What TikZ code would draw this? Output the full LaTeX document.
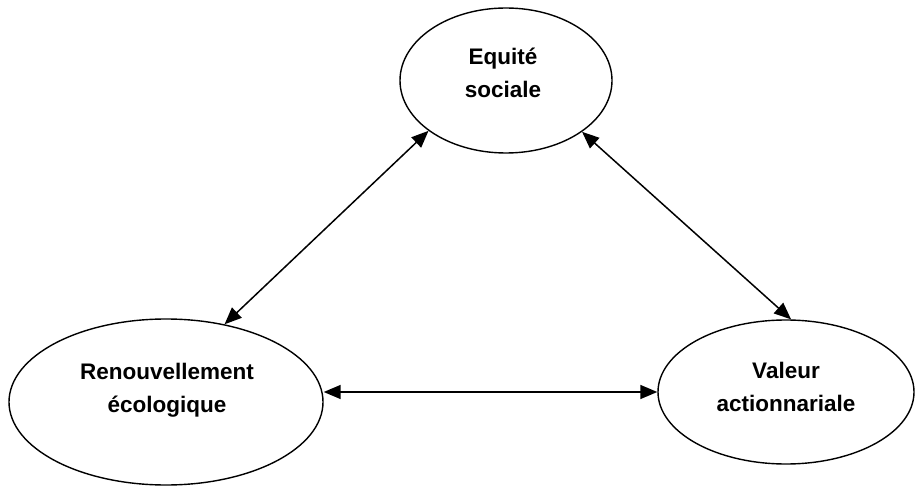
\documentclass[tikz,border=0pt]{standalone}
\usepackage{fontspec}
\setmainfont{Liberation Sans}
\usetikzlibrary{shapes.geometric,arrows.meta}
\begin{document}
\begin{tikzpicture}[x=1pt,y=-1pt,
  oval/.style={draw,ellipse,line width=1.4pt,inner sep=0pt},
  lbl/.style={align=center,inner sep=0pt,font=\fontsize{22.5}{33}\selectfont\bfseries},
  tip/.tip={Triangle[length=17pt,width=14pt]},
  arr/.style={line width=1.5pt,tip-tip}]
\useasboundingbox (0,0) rectangle (915,486);
\node[oval,minimum width=212pt,minimum height=145pt] (eq) at (506,80.5) {};
\node[oval,minimum width=314pt,minimum height=166pt] (le) at (166,402) {};
\node[oval,minimum width=256pt,minimum height=144pt] (ri) at (786,392) {};
\node[lbl] (eqt) at (503,73) {Equité\\sociale};
\node[lbl] (let) at (167,390) {Renouvellement\\écologique};
\node[lbl] (rit) at (786,387) {Valeur\\actionnariale};
\draw[arr] (le.53.4) -- (eq.213.2);
\draw[arr] (eq.-34.6) -- (ri.86.3);
\draw[arr] (ri.west -| le.east) -- (ri.west);
\end{tikzpicture}
\end{document}
